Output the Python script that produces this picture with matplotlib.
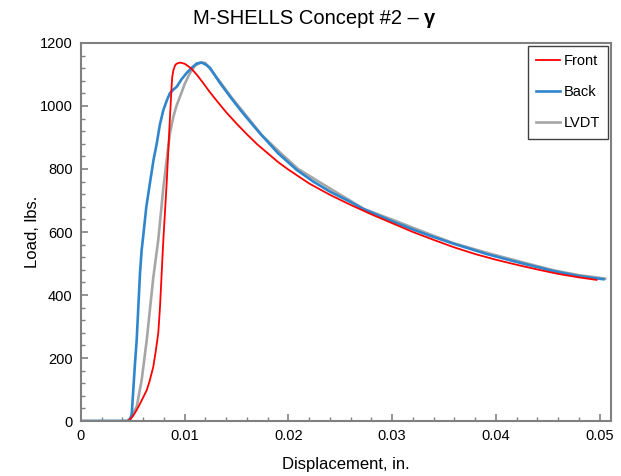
import matplotlib.pyplot as plt
from matplotlib.ticker import MultipleLocator, FormatStrFormatter

plt.rcParams['font.family'] = ['Liberation Sans', 'DejaVu Sans']

# Front gauge (red)
front_x = [0.0, 0.00456, 0.0050, 0.00537, 0.0058, 0.00634, 0.0066, 0.00697, 0.0072, 0.00745,
           0.00762, 0.00778, 0.00794, 0.0081, 0.00826, 0.00842, 0.00858, 0.00875, 0.0088,
           0.0089, 0.00906, 0.0092, 0.00955, 0.0100, 0.0106, 0.0112, 0.0118, 0.0124, 0.0132,
           0.014, 0.015, 0.016, 0.017, 0.018, 0.019, 0.020, 0.022, 0.024, 0.026, 0.028,
           0.030, 0.032, 0.034, 0.036, 0.038, 0.040, 0.042, 0.044, 0.046, 0.048, 0.0497]
front_y = [0, 0, 15, 35, 62, 98, 125, 172, 220, 279,
           363, 470, 575, 665, 755, 860, 965, 1070, 1093,
           1112, 1128, 1134, 1138, 1134, 1120, 1098, 1072, 1045, 1012,
           980, 944, 910, 878, 850, 822, 798, 754, 718, 686, 656,
           628, 600, 575, 551, 530, 512, 496, 481, 467, 456, 448]

# Back gauge (blue)
back_x = [0.0, 0.00441, 0.00475, 0.00489, 0.00504, 0.0052, 0.00537, 0.00553, 0.00569,
          0.00585, 0.00601, 0.0063, 0.00665, 0.0070, 0.0073, 0.0076, 0.00794, 0.0083,
          0.00858, 0.0089, 0.00923, 0.0097, 0.01019, 0.0107, 0.01116, 0.01164, 0.0121,
          0.01244, 0.0129, 0.0134, 0.01437, 0.0153, 0.0163, 0.01726, 0.019, 0.0208, 0.0224,
          0.02401, 0.026, 0.02722, 0.029, 0.03044, 0.032, 0.03365, 0.0359, 0.03912,
          0.04233, 0.04555, 0.048, 0.05037]
back_y = [0, 0, 5, 20, 98, 180, 257, 363, 470,
          543, 590, 680, 756, 830, 880, 940, 987, 1020,
          1041, 1052, 1061, 1085, 1105, 1122, 1135, 1138, 1130,
          1121, 1098, 1073, 1030, 990, 950, 913, 850, 797, 760,
          728, 695, 673, 648, 628, 608, 588, 563, 530,
          502, 476, 460, 450]

# LVDT (grey)
lvdt_x = [0.0, 0.00456, 0.00537, 0.00585, 0.00634, 0.00665, 0.00697, 0.00745, 0.00794,
          0.0083, 0.00858, 0.0089, 0.0092, 0.00955, 0.0100, 0.01051, 0.0110, 0.01148,
          0.01196, 0.0124, 0.0129, 0.0134, 0.01456, 0.0155, 0.01745, 0.0192, 0.02093,
          0.02411, 0.02729, 0.03057, 0.03375, 0.03597, 0.03934, 0.04243, 0.04562, 0.048,
          0.05053]
lvdt_y = [0, 0, 45, 130, 257, 355, 455, 575, 740,
          840, 914, 965, 1000, 1030, 1070, 1105, 1128, 1137,
          1137, 1120, 1098, 1077, 1025, 987, 907, 852, 800,
          736, 673, 632, 591, 564, 532, 505, 478, 463,
          452]

fig = plt.figure(figsize=(6.21, 4.76), dpi=100)
ax = fig.add_axes([0.1304, 0.1155, 0.8536, 0.7942])

l_lvdt, = ax.plot(lvdt_x, lvdt_y, color='#A6A6A6', linewidth=1.9, label='LVDT')
l_back, = ax.plot(back_x, back_y, color='#2F86CD', linewidth=1.9, label='Back')
l_front, = ax.plot(front_x, front_y, color='#FF0000', linewidth=1.3, label='Front')

ax.set_xlim(0, 0.0511)
ax.set_ylim(0, 1200)
ax.xaxis.set_major_locator(MultipleLocator(0.01))
ax.xaxis.set_minor_locator(MultipleLocator(0.002))
ax.yaxis.set_major_locator(MultipleLocator(200))
ax.yaxis.set_minor_locator(MultipleLocator(40))
ax.xaxis.set_major_formatter(FormatStrFormatter('%g'))

for s in ax.spines.values():
    s.set_color('#808080')
    s.set_linewidth(1.5)
ax.tick_params(which='both', direction='in', color='#808080', labelsize=10.5, pad=6)
ax.tick_params(which='major', length=5, width=1.2)
ax.tick_params(which='minor', length=3, width=1.0)

ax.set_xlabel('Displacement, in.', fontsize=12, labelpad=10)
ax.set_ylabel('Load, lbs.', fontsize=12, labelpad=0)

# title: plain text plus bold gamma, centred as a whole
title_y = 0.962
t1 = fig.text(0, title_y, 'M-SHELLS Concept #2 \u2013 ', ha='left', va='center', fontsize=14.5)
t2 = fig.text(0, title_y, '\u03b3', ha='left', va='center', fontsize=14.5, fontweight='bold')
r = fig.canvas.get_renderer()
w1 = t1.get_window_extent(r).width / fig.bbox.width
w2 = t2.get_window_extent(r).width / fig.bbox.width
x0 = 0.506 - (w1 + w2) / 2
t1.set_x(x0)
t2.set_x(x0 + w1)

leg = ax.legend(handles=[l_front, l_back, l_lvdt], loc='upper right',
                bbox_to_anchor=(0.995, 0.993), borderaxespad=0.0, fontsize=10.5,
                labelspacing=1.15, handlelength=1.6, handletextpad=0.25, borderpad=0.6,
                fancybox=False, framealpha=1, edgecolor='#404040')
leg.get_frame().set_linewidth(1.0)

fig.savefig('out.png', dpi=100)
